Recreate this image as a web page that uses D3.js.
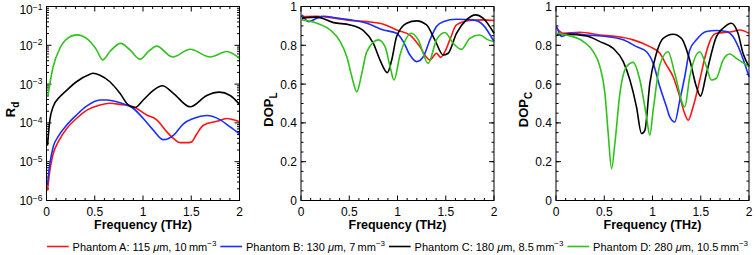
<!DOCTYPE html>
<html>
<head>
<meta charset="utf-8">
<script src="https://cdn.jsdelivr.net/npm/d3@7"></script>
<style>
  body { margin: 0; background: #fff; }
  svg { font-family: "Liberation Sans", Arial, Helvetica, sans-serif; }
</style>
</head>
<body>
<div id="main"></div>
<script>
const ctx = { w: 756, h: 255 };

// series names and colours
const phantoms = ['A', 'B', 'C', 'D'];
const colors = ['#ff1414', '#1a2eff', '#000000', '#2fc21a'];
const legendSize = ['115', '130', '180', '280'];
const legendDensity = ['10', '7', '8.5', '10.5'];

const freqTicks = [0, 0.5, 1, 1.5, 2];
const dopTicks = [0, 0.2, 0.4, 0.6, 0.8, 1];
const rdExponents = [-6, -5, -4, -3, -2, -1];

// Rd  [frequency THz, value]
const rdA = [[0.01,1.8e-6],[0.035,6.0e-6],[0.069,1.6e-5],[0.12,3.2e-5],[0.208,7.1e-5],[0.311,1.3e-4],[0.415,2.1e-4],[0.554,2.9e-4],[0.657,3.2e-4],[0.761,3.0e-4],[0.9,2.6e-4],[1.038,1.6e-4],[1.142,1.2e-4],[1.246,5.9e-5],[1.315,4.0e-5],[1.384,3.1e-5],[1.453,3.1e-5],[1.5,3.2e-5],[1.557,5.2e-5],[1.626,8.7e-5],[1.765,1.1e-4],[1.869,1.3e-4],[1.938,1.2e-4],[2.0,1.07e-4]];
const rdB = [[0.01,2.5e-6],[0.035,8.9e-6],[0.069,2.4e-5],[0.12,4.4e-5],[0.208,8.7e-5],[0.311,1.6e-4],[0.415,2.7e-4],[0.554,3.9e-4],[0.623,3.9e-4],[0.761,3.3e-4],[0.9,2.35e-4],[1.003,1.3e-4],[1.107,6.5e-5],[1.211,3.7e-5],[1.315,4.8e-5],[1.419,9.5e-5],[1.522,1.3e-4],[1.661,1.55e-4],[1.8,1.2e-4],[1.903,7.9e-5],[2.0,5.2e-5]];
const rdC = [[0.01,2.6e-5],[0.035,1.2e-4],[0.069,2.6e-4],[0.138,4.7e-4],[0.208,6.9e-4],[0.311,1.15e-3],[0.45,1.8e-3],[0.48,1.9e-3],[0.554,1.7e-3],[0.657,1.15e-3],[0.761,5.8e-4],[0.848,2.9e-4],[0.917,2.5e-4],[1.003,3.9e-4],[1.107,6.9e-4],[1.2,9.1e-4],[1.315,5.8e-4],[1.488,2.6e-4],[1.661,5.1e-4],[1.79,6.2e-4],[1.903,5.1e-4],[2.0,3.0e-4]];
const rdD = [[0.012,4.7e-4],[0.069,2.8e-3],[0.138,8.3e-3],[0.208,1.45e-2],[0.318,1.86e-2],[0.415,1.5e-2],[0.519,7.6e-3],[0.581,4.2e-3],[0.657,6.9e-3],[0.768,1.12e-2],[0.865,7.6e-3],[0.969,4.4e-3],[1.055,6.9e-3],[1.142,9.5e-3],[1.308,5.0e-3],[1.488,7.9e-3],[1.696,5.0e-3],[1.869,6.9e-3],[2.0,4.6e-3]];

// DOP_L
const dlA = [[0.01,0.948],[0.165,0.95],[0.268,0.945],[0.509,0.928],[0.682,0.922],[0.854,0.909],[0.991,0.879],[1.129,0.853],[1.232,0.793],[1.301,0.738],[1.336,0.724],[1.404,0.759],[1.446,0.738],[1.491,0.767],[1.542,0.828],[1.611,0.905],[1.749,0.928],[1.886,0.931],[2.0,0.928]];
const dlB = [[0.01,0.957],[0.079,0.922],[0.165,0.94],[0.234,0.95],[0.372,0.94],[0.509,0.931],[0.682,0.914],[0.854,0.879],[0.991,0.862],[1.06,0.819],[1.129,0.75],[1.198,0.716],[1.267,0.741],[1.336,0.828],[1.404,0.897],[1.473,0.922],[1.611,0.934],[1.783,0.931],[1.886,0.905],[2.0,0.819]];
const dlC = [[0.01,0.94],[0.165,0.945],[0.337,0.917],[0.509,0.905],[0.647,0.876],[0.75,0.81],[0.819,0.724],[0.895,0.659],[0.94,0.724],[0.991,0.845],[1.095,0.914],[1.198,0.926],[1.301,0.905],[1.387,0.828],[1.473,0.75],[1.525,0.759],[1.611,0.862],[1.714,0.931],[1.811,0.957],[1.886,0.94],[2.0,0.862]];
const dlD = [[0.01,0.931],[0.165,0.914],[0.303,0.879],[0.406,0.819],[0.475,0.741],[0.527,0.638],[0.578,0.56],[0.63,0.655],[0.682,0.767],[0.802,0.828],[0.871,0.793],[0.923,0.69],[0.964,0.621],[1.026,0.75],[1.146,0.862],[1.215,0.828],[1.318,0.707],[1.404,0.828],[1.491,0.866],[1.577,0.81],[1.663,0.779],[1.749,0.836],[1.852,0.853],[1.938,0.828],[2.0,0.819]];

// DOP_C
const dcA = [[0.007,0.888],[0.076,0.862],[0.248,0.867],[0.455,0.853],[0.628,0.845],[0.8,0.828],[0.972,0.793],[1.076,0.759],[1.145,0.698],[1.214,0.638],[1.283,0.534],[1.334,0.448],[1.369,0.414],[1.421,0.483],[1.49,0.621],[1.541,0.733],[1.593,0.819],[1.662,0.862],[1.834,0.871],[1.903,0.879],[2.0,0.862]];
const dcB = [[0.007,0.897],[0.059,0.845],[0.145,0.862],[0.317,0.853],[0.524,0.845],[0.697,0.828],[0.834,0.793],[0.938,0.767],[1.007,0.707],[1.076,0.586],[1.145,0.483],[1.179,0.431],[1.231,0.405],[1.283,0.517],[1.334,0.638],[1.386,0.776],[1.455,0.828],[1.559,0.871],[1.662,0.876],[1.766,0.871],[1.834,0.845],[1.903,0.776],[2.0,0.638]];
const dcC = [[0.007,0.853],[0.11,0.857],[0.317,0.848],[0.455,0.819],[0.593,0.784],[0.697,0.716],[0.766,0.621],[0.834,0.483],[0.886,0.345],[0.921,0.362],[0.972,0.603],[1.041,0.759],[1.11,0.836],[1.214,0.857],[1.3,0.836],[1.386,0.724],[1.455,0.586],[1.497,0.538],[1.559,0.655],[1.662,0.845],[1.731,0.888],[1.817,0.914],[1.886,0.862],[1.938,0.759],[2.0,0.69]];
const dcD = [[0.007,0.862],[0.11,0.853],[0.283,0.819],[0.386,0.767],[0.455,0.69],[0.507,0.552],[0.541,0.345],[0.576,0.164],[0.61,0.293],[0.662,0.552],[0.731,0.69],[0.8,0.712],[0.869,0.621],[0.938,0.431],[0.972,0.336],[1.007,0.466],[1.076,0.698],[1.162,0.767],[1.231,0.655],[1.334,0.483],[1.386,0.638],[1.49,0.767],[1.559,0.69],[1.61,0.621],[1.662,0.63],[1.731,0.724],[1.8,0.755],[1.869,0.733],[2.0,0.69]];

const panels = [
    { x0: 46.5, labelX: -32, label: 'R', sub: 'd', log: true, series: [rdA, rdB, rdC, rdD] },
    { x0: 301, labelX: -28, label: 'DOP', sub: 'L', log: false, series: [dlA, dlB, dlC, dlD] },
    { x0: 556, labelX: -28, label: 'DOP', sub: 'C', log: false, series: [dcA, dcB, dcC, dcD] }
];
const pw = 193, plotTop = 6.5, plotBottom = 200.5;

//==============================================================================================
function drawPanel(svg, p) {
    const g = svg.append("g").attr("transform", `translate(${p.x0},0)`);
    const x = d3.scaleLinear().domain([0, 2]).range([0, pw]);
    const y = p.log
        ? d3.scaleLog().domain([1e-6, 1e-1]).range([plotBottom, plotTop])
        : d3.scaleLinear().domain([0, 1]).range([plotBottom, plotTop]);

    // minor ticks
    const xMinor = d3.range(0, 2.001, 0.1);
    let yMinor;
    if (p.log) {
        yMinor = [];
        rdExponents.slice(0, -1).forEach(e => {
            for (let k = 2; k <= 9; k++) yMinor.push(k * Math.pow(10, e));
        });
    } else {
        yMinor = d3.range(0, 1.001, 0.05);
    }
    const yMajor = p.log ? rdExponents.map(e => Math.pow(10, e)) : dopTicks;

    const ticks = g.append("g").attr("stroke", "#000").attr("stroke-width", 1);
    xMinor.forEach(v => {
        const len = freqTicks.some(t => Math.abs(t - v) < 1e-6) ? 5 : 2.5;
        ticks.append("line").attr("x1", x(v)).attr("x2", x(v)).attr("y1", plotBottom).attr("y2", plotBottom - len);
        ticks.append("line").attr("x1", x(v)).attr("x2", x(v)).attr("y1", plotTop).attr("y2", plotTop + len);
    });
    yMinor.forEach(v => {
        ticks.append("line").attr("x1", 0).attr("x2", 2.5).attr("y1", y(v)).attr("y2", y(v));
        ticks.append("line").attr("x1", pw).attr("x2", pw - 2.5).attr("y1", y(v)).attr("y2", y(v));
    });
    yMajor.forEach(v => {
        ticks.append("line").attr("x1", 0).attr("x2", 5).attr("y1", y(v)).attr("y2", y(v));
        ticks.append("line").attr("x1", pw).attr("x2", pw - 5).attr("y1", y(v)).attr("y2", y(v));
    });

    // curves
    const line = d3.line()
        .x(d => x(d[0]))
        .y(d => y(d[1]))
        .curve(d3.curveMonotoneX);
    p.series.forEach((s, i) => {
        g.append("path")
            .datum(s)
            .attr("d", line)
            .attr("fill", "none")
            .attr("stroke", colors[i])
            .attr("stroke-width", 1.6);
    });

    // frame
    g.append("rect")
        .attr("x", 0).attr("y", plotTop)
        .attr("width", pw).attr("height", plotBottom - plotTop)
        .attr("fill", "none").attr("stroke", "#000").attr("stroke-width", 1);

    // x tick labels
    g.selectAll(".xl").data(freqTicks).enter().append("text")
        .attr("x", d => x(d)).attr("y", plotBottom + 15.5)
        .attr("text-anchor", "middle")
        .style("font-size", "12px")
        .text(d => d);

    // y tick labels
    if (p.log) {
        rdExponents.forEach(e => {
            const t = g.append("text")
                .attr("x", -4).attr("y", Math.max(y(Math.pow(10, e)) + 4.5, 14))
                .attr("text-anchor", "end")
                .style("font-size", "12px");
            t.append("tspan").text("10");
            t.append("tspan").attr("dy", -4.5).style("font-size", "8.5px").text("\u2212" + Math.abs(e));
        });
    } else {
        g.selectAll(".yl").data(dopTicks).enter().append("text")
            .attr("x", -4).attr("y", d => y(d) + 4.5)
            .attr("text-anchor", "end")
            .style("font-size", "12px")
            .text(d => d);
    }

    // axis titles
    g.append("text")
        .attr("x", pw / 2).attr("y", plotBottom + 28.5)
        .attr("text-anchor", "middle")
        .style("font-size", "12.5px").style("font-weight", "bold")
        .text("Frequency (THz)");

    const yl = g.append("text")
        .attr("transform", `translate(${p.labelX},${(plotTop + plotBottom) / 2 + 6}) rotate(-90)`)
        .attr("text-anchor", "middle")
        .style("font-size", "13px").style("font-weight", "bold");
    yl.append("tspan").text(p.label);
    yl.append("tspan").attr("dy", 4).style("font-size", "10px").text(p.sub);
}

function drawLegend(svg) {
    const lg = svg.append("g").attr("transform", "translate(47,246.5)");
    const totalW = 705, gap = 4;
    const items = [];
    phantoms.forEach((ph, i) => {
        const t = lg.append("text")
            .attr("y", 4)
            .style("font-size", "11px");
        t.append("tspan").text(`Phantom ${ph}: ${legendSize[i]} `);
        t.append("tspan").style("font-style", "italic").text("\u03bc");
        t.append("tspan").text(`m, ${legendDensity[i]}\u2009mm`);
        t.append("tspan").attr("dy", -4.5).style("font-size", "8px").text("\u22123");
        items.push(t);
    });
    const textW = d3.sum(items, t => t.node().getComputedTextLength());
    const lineLen = (totalW - textW - items.length * 2 * gap) / items.length;
    let cx = 0;
    items.forEach((t, i) => {
        lg.append("line")
            .attr("x1", cx).attr("x2", cx + lineLen)
            .attr("y1", 0).attr("y2", 0)
            .attr("stroke", colors[i]).attr("stroke-width", 1.6);
        t.attr("x", cx + lineLen + gap);
        cx += lineLen + gap + t.node().getComputedTextLength() + gap;
    });
}

function createViz() {
    const svg = d3.select("#main").append("svg")
        .attr("width", ctx.w)
        .attr("height", ctx.h);
    panels.forEach(p => drawPanel(svg, p));
    drawLegend(svg);
}

createViz();
</script>
</body>
</html>
